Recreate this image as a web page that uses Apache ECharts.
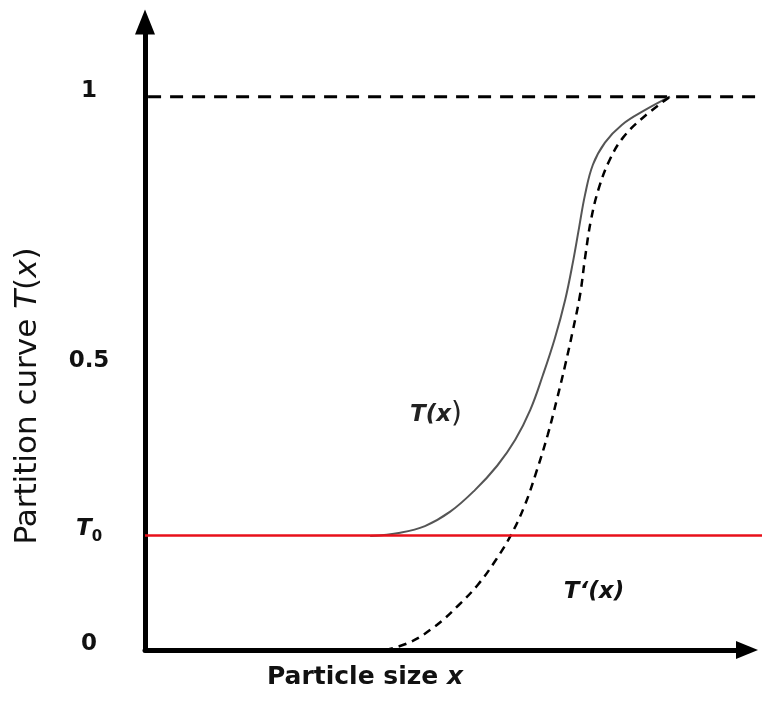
<!DOCTYPE html>
<html>
<head>
<meta charset="utf-8">
<script src="https://cdn.jsdelivr.net/npm/echarts@6/dist/echarts.min.js"></script>
<style>html,body{margin:0;padding:0;background:#fff;}#c{width:762px;height:702px;}</style>
</head>
<body>
<div id="c"></div>
<script>
// Partition curve T(x)
const tX = [37.4, 42.4, 46.5, 50.7, 54.8, 58.5, 61.5, 64.0, 66.1, 68.1, 69.8, 71.1, 72.1, 73.1, 74.4, 76.4, 79.2, 83.1, 87.2];
const tY = [0.206, 0.212, 0.224, 0.250, 0.289, 0.333, 0.380, 0.434, 0.497, 0.564, 0.633, 0.702, 0.763, 0.823, 0.877, 0.917, 0.949, 0.976, 1.0];
// Corrected partition curve T'(x)
const tpX = [39.9, 44.0, 48.2, 52.0, 55.3, 58.3, 60.8, 63.1, 65.1, 66.9, 68.4, 69.8, 71.1, 72.3, 73.1, 74.1, 75.4, 77.2, 79.4, 82.7, 87.2];
const tpY = [0.0, 0.014, 0.043, 0.080, 0.118, 0.163, 0.208, 0.262, 0.325, 0.389, 0.452, 0.515, 0.579, 0.644, 0.709, 0.778, 0.835, 0.886, 0.926, 0.962, 1.0];
// Levels
const t0Level = 0.207;
const topLevel = 1;
// Y tick labels
const yTickValues = [0, t0Level, 0.512, 1];
const yTickLabels = ['0', 'T0', '0.5', '1'];

const yMax = 1.135;
const chart = echarts.init(document.getElementById('c'), null, {renderer: 'canvas'});
const pair = (xs, ys) => xs.map((x, i) => [x, ys[i]]);
const labelFont = 'DejaVu Sans';

chart.setOption({
  animation: false,
  backgroundColor: '#fff',
  grid: [
    {left: 145, right: 15, top: 22, bottom: 52},
    {left: 145, right: 0, top: 22, bottom: 52}
  ],
  xAxis: [
    {
      type: 'value', gridIndex: 0, min: 0, max: 100,
      axisLine: {show: true, onZero: false, lineStyle: {color: '#000', width: 5},
        symbol: ['none', 'triangle'], symbolSize: [18, 22]},
      axisTick: {show: false}, axisLabel: {show: false}, splitLine: {show: false}
    },
    {type: 'value', gridIndex: 1, min: 0, max: 1, show: false}
  ],
  yAxis: [
    {
      type: 'value', gridIndex: 0, min: 0, max: yMax,
      axisLine: {show: true, onZero: false, lineStyle: {color: '#000', width: 5},
        symbol: ['none', 'triangle'], symbolSize: [20, 25]},
      axisTick: {show: false}, splitLine: {show: false},
      axisLabel: {
        customValues: yTickValues,
        margin: 56,
        align: 'center',
        padding: [0, 0, 12, 0],
        fontFamily: labelFont, fontWeight: 'bold', fontSize: 23, color: '#111',
        formatter: function (v) {
          let idx = 0, best = Infinity;
          yTickValues.forEach((tv, i) => { const d = Math.abs(tv - v); if (d < best) { best = d; idx = i; } });
          const lab = yTickLabels[idx];
          if (lab === 'T0') return '{t|T}{s|0}';
          return lab;
        },
        rich: {
          t: {fontFamily: labelFont, fontWeight: 'bold', fontStyle: 'italic', fontSize: 23, lineHeight: 23, verticalAlign: 'top', color: '#111'},
          s: {fontFamily: labelFont, fontWeight: 'bold', fontSize: 15, lineHeight: 15, padding: [12, 0, 0, 0], verticalAlign: 'top', color: '#111'}
        }
      }
    },
    {type: 'value', gridIndex: 1, min: 0, max: yMax, show: false}
  ],
  series: [
    {
      name: 'top', type: 'line', xAxisIndex: 1, yAxisIndex: 1, symbol: 'none', silent: true,
      data: [[0.005, topLevel], [1, topLevel]],
      lineStyle: {color: '#000', width: 3, type: [13, 9]}
    },
    {
      name: 'T(x)', type: 'line', xAxisIndex: 0, yAxisIndex: 0, symbol: 'none', smooth: 0.4,
      data: pair(tX, tY),
      lineStyle: {color: '#555', width: 2}
    },
    {
      name: "T'(x)", type: 'line', xAxisIndex: 0, yAxisIndex: 0, symbol: 'none', smooth: 0.4,
      data: pair(tpX, tpY),
      lineStyle: {color: '#000', width: 2.5, type: [8, 6]}
    },
    {
      name: 'T0', type: 'line', xAxisIndex: 1, yAxisIndex: 1, symbol: 'none', silent: true,
      data: [[0, t0Level], [1, t0Level]],
      lineStyle: {color: '#e8101a', width: 2.5}
    }
  ],
  graphic: [
    {
      type: 'text', x: 28, y: 396, rotation: Math.PI / 2,
      style: {
        text: 'Partition curve {i|T}({i|x})',
        textAlign: 'center', textVerticalAlign: 'middle',
        fontFamily: labelFont, fontSize: 31, fill: '#111',
        rich: {i: {fontFamily: labelFont, fontSize: 31, fontStyle: 'italic', fill: '#111'}}
      }
    },
    {
      type: 'text', x: 365, y: 677,
      style: {
        text: 'Particle size {i|x}',
        textAlign: 'center', textVerticalAlign: 'middle',
        fontFamily: labelFont, fontWeight: 'bold', fontSize: 25, fill: '#111',
        rich: {i: {fontFamily: labelFont, fontWeight: 'bold', fontStyle: 'italic', fontSize: 25, fill: '#111'}}
      }
    },
    {
      type: 'text', x: 436, y: 415,
      style: {
        text: '{b|T(x}{p|)}',
        textAlign: 'center', textVerticalAlign: 'middle',
        rich: {
          b: {fontFamily: labelFont, fontWeight: 'bold', fontStyle: 'italic', fontSize: 23, fill: '#222'},
          p: {fontFamily: labelFont, fontSize: 28, fill: '#222'}
        }
      }
    },
    {
      type: 'text', x: 594, y: 592,
      style: {
        text: 'T\u2018(x)',
        textAlign: 'center', textVerticalAlign: 'middle',
        fontFamily: labelFont, fontWeight: 'bold', fontStyle: 'italic', fontSize: 23, fill: '#111'
      }
    }
  ]
});
</script>
</body>
</html>
